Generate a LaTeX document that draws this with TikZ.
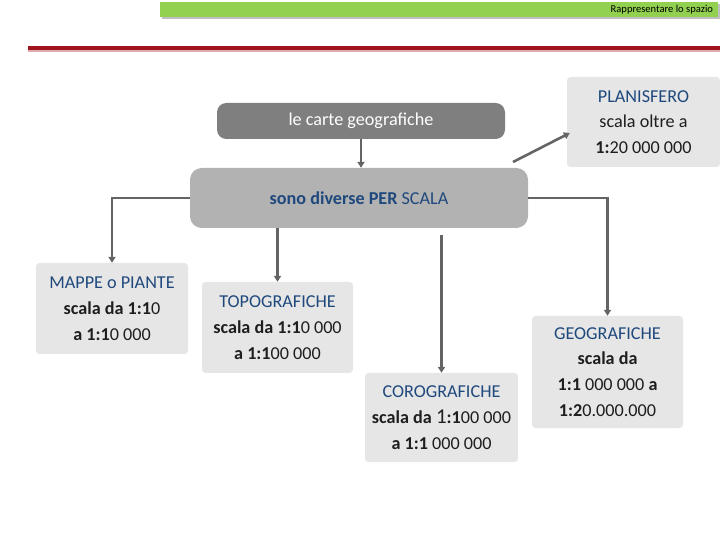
\documentclass[tikz,border=0pt]{standalone}
\usepackage{fontspec}
\setmainfont{Carlito}
\usetikzlibrary{arrows.meta}
\definecolor{titolo}{RGB}{31,73,125}
\definecolor{testonero}{RGB}{30,30,30}
\definecolor{grigioscuro}{RGB}{127,127,127}
\definecolor{grigiomedio}{RGB}{178,178,178}
\definecolor{grigiochiaro}{RGB}{230,230,230}
\definecolor{grigiofreccia}{RGB}{100,100,100}
\definecolor{verde}{RGB}{146,208,80}
\definecolor{rosso}{RGB}{160,18,28}
\newdimen\px \px=0.03cm

\begin{document}
\begin{tikzpicture}[x=\px, y=-\px,
        testo/.style={font=\fontsize{15.5}{22}\selectfont, align=center, text=testonero},
        scatola/.style={testo, fill=grigiochiaro, rounded corners=3pt, inner sep=0pt},
        freccia/.style={draw=grigiofreccia, line width=2.2pt, -{Triangle[length=5pt,width=6pt]}}]
        \useasboundingbox (0,0) rectangle (720,540);
        % intestazione
        \fill[black!25] (162,4) rectangle (720,19.5);
        \node[fill=verde, minimum width=558\px, minimum height=15\px, inner sep=0pt] (barra) at (439,9.5) {};
        \node[anchor=east, font=\fontsize{9}{10}\selectfont, inner sep=0pt] (sezione) at ([xshift=-5\px]barra.east) {Rappresentare lo spazio};
        \fill[rosso] (28,46) rectangle (720,50);
        \fill[rosso!35] (28,50) rectangle (720,52);
        % livelli superiori
        \node[testo, fill=grigioscuro, text=white, rounded corners=8pt, minimum width=288\px, minimum height=36\px, inner sep=0pt] (carte) at (361,121) {le carte geografiche};
        \node[testo, fill=grigiomedio, text=titolo, rounded corners=10pt, minimum width=338\px, minimum height=60\px, inner sep=0pt] (scala) at (359,198) {\textbf{sono diverse PER} SCALA};
        \node[scatola, minimum width=153\px, minimum height=90\px] (planis) at (643.5,122)
            {\textcolor{titolo}{PLANISFERO}\\scala oltre a\\\textbf{1:}20 000 000};
        % tipi di carte
        \node[scatola, minimum width=152\px, minimum height=91\px] (mappe) at (112,308.5)
            {\textcolor{titolo}{MAPPE o PIANTE}\\\textbf{scala da 1:1}0\\\textbf{a 1:1}0 000};
        \node[scatola, minimum width=151\px, minimum height=91\px] (topo) at (277.5,327.5)
            {\textcolor{titolo}{TOPOGRAFICHE}\\\textbf{scala da 1:1}0 000\\\textbf{a 1:1}00 000};
        \node[scatola, minimum width=153\px, minimum height=89\px] (coro) at (441.5,417.5)
            {\textcolor{titolo}{COROGRAFICHE}\\\textbf{scala da} {\fontsize{18}{22}\selectfont 1}\textbf{:1}00 000\\\textbf{a 1:1} 000 000};
        \node[scatola, minimum width=151\px, minimum height=112\px] (geo) at (607.5,372)
            {\textcolor{titolo}{GEOGRAFICHE}\\\textbf{scala da}\\\textbf{1:1} 000 000 \textbf{a}\\\textbf{1:2}0.000.000};
        % collegamenti
        \draw[freccia] (carte.south) -- (carte.south |- scala.north);
        \coordinate (partenza) at (513,162);
        \draw[freccia] (partenza) -- ([shift={(3,11)}]planis.west);
        \draw[freccia] (scala.west) -| (mappe.north);
        \draw[freccia] (scala.south -| topo.north) -- (topo.north);
        \draw[freccia] ([yshift=-7\px]scala.south -| coro.north) -- (coro.north);
        \draw[freccia] (scala.east) -| (geo.north);
    \end{tikzpicture}
\end{document}
